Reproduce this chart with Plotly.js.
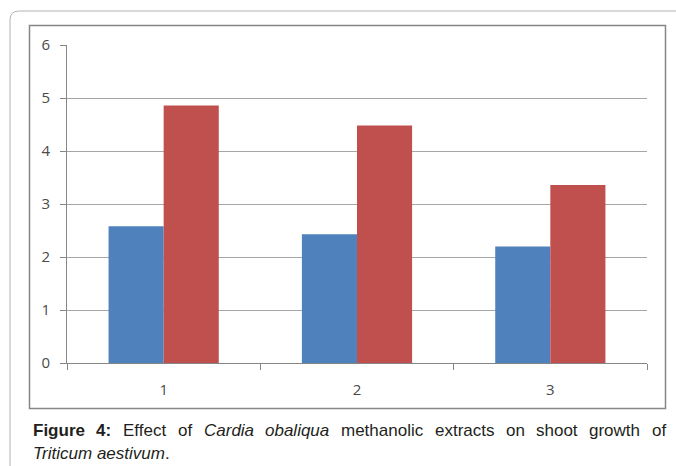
<!DOCTYPE html>
<html>
<head>
<meta charset="utf-8">
<script src="https://cdn.plot.ly/plotly-3.0.1.min.js"></script>
<style>html,body{margin:0;padding:0;background:#fff;}#chart{width:676px;height:466px;}</style>
</head>
<body>
<div id="chart"></div>
<script>
var categories = ['1', '2', '3'];
var seriesA = [2.58, 2.43, 2.20];
var seriesB = [4.86, 4.48, 3.36];
var yTicks = [0, 1, 2, 3, 4, 5, 6];

var W = 676, H = 466;
var L = 67, R = 647, T = 45, B = 363;
function px(X) { return (X - L) / (R - L); }
function py(Y) { return (B - Y) / (B - T); }

var traces = [
  { type: 'bar', x: categories, y: seriesA, marker: { color: '#4F81BD' }, name: 'A' },
  { type: 'bar', x: categories, y: seriesB, marker: { color: '#C0504D' }, name: 'B' }
];

// outer rounded frame (clipped by page)
var r = 9, x0 = 10, y0 = 11, x1 = 700, y1 = 500;
var outerPath = 'M ' + px(x0) + ' ' + py(y1) +
  ' L ' + px(x0) + ' ' + py(y0 + r) +
  ' Q ' + px(x0) + ' ' + py(y0) + ' ' + px(x0 + r) + ' ' + py(y0) +
  ' L ' + px(x1) + ' ' + py(y0);

var shapes = [
  { type: 'path', xref: 'paper', yref: 'paper', path: outerPath, line: { color: '#b4b4b4', width: 1 } },
  { type: 'rect', xref: 'paper', yref: 'paper', x0: px(29.5), x1: px(665.5), y0: py(408.5), y1: py(25.5),
    line: { color: '#868686', width: 1.5 } }
];

// caption, justified across the frame width like the original
var capSize = 17;
var capFamily = 'Liberation Sans';
var capFont = { family: capFamily + ', Arial, sans-serif', size: capSize, color: '#231f20' };
var line1 = [
  ['Figure', 'b'], ['4:', 'b'], ['Effect', ''], ['of', ''], ['Cardia', 'i'], ['obaliqua', 'i'],
  ['methanolic', ''], ['extracts', ''], ['on', ''], ['shoot', ''], ['growth', ''], ['of', '']
];
var cv = document.createElement('canvas').getContext('2d');
function wordWidth(w, style) {
  var pre = style === 'b' ? 'bold ' : (style === 'i' ? 'italic ' : '');
  cv.font = pre + capSize + 'px "' + capFamily + '"';
  return cv.measureText(w).width;
}
var capLeft = 32, capRight = 665;
var widths = line1.map(function (w) { return wordWidth(w[0], w[1]); });
var totalW = widths.reduce(function (a, b) { return a + b; }, 0);
var gap = (capRight - capLeft - totalW) / (line1.length - 1);
var annotations = [];
var cx = capLeft;
line1.forEach(function (w, i) {
  var txt = w[1] === 'b' ? '<b>' + w[0] + '</b>' : (w[1] === 'i' ? '<i>' + w[0] + '</i>' : w[0]);
  annotations.push({ xref: 'paper', yref: 'paper', x: px(cx), y: py(430.5), xanchor: 'left', yanchor: 'middle',
    text: txt, showarrow: false, font: capFont, xshift: -1 });
  cx += widths[i] + gap;
});
annotations.push({ xref: 'paper', yref: 'paper', x: px(capLeft), y: py(453), xanchor: 'left', yanchor: 'middle',
  text: '<i>Triticum aestivum</i>.', showarrow: false, font: capFont, xshift: -1 });

var tickFont = { family: 'Open Sans, Liberation Sans, sans-serif', size: 15, color: '#4a4a4a' };

var layout = {
  width: W, height: H,
  margin: { l: L, r: W - R, t: T, b: H - B, pad: 0 },
  paper_bgcolor: '#ffffff', plot_bgcolor: '#ffffff',
  showlegend: false,
  barmode: 'group', bargap: 0.43, bargroupgap: 0,
  xaxis: {
    type: 'category', range: [-0.5, 2.5], tickson: 'boundaries',
    ticks: 'outside', ticklen: 6, tickcolor: '#868686', tickwidth: 1,
    showline: true, linecolor: '#868686', linewidth: 1,
    showgrid: false, zeroline: false, tickfont: tickFont, ticklabelstandoff: 13
  },
  yaxis: {
    range: [0, 6], tickvals: yTicks, ticktext: yTicks.map(String),
    ticks: 'outside', ticklen: 6, tickcolor: '#868686', tickwidth: 1,
    showline: true, linecolor: '#868686', linewidth: 1,
    showgrid: true, gridcolor: '#a6a6a6', gridwidth: 1, zeroline: false,
    tickfont: tickFont, ticklabelstandoff: 7
  },
  shapes: shapes,
  annotations: annotations
};

Plotly.newPlot('chart', traces, layout, { displayModeBar: false, staticPlot: true });
</script>
</body>
</html>
